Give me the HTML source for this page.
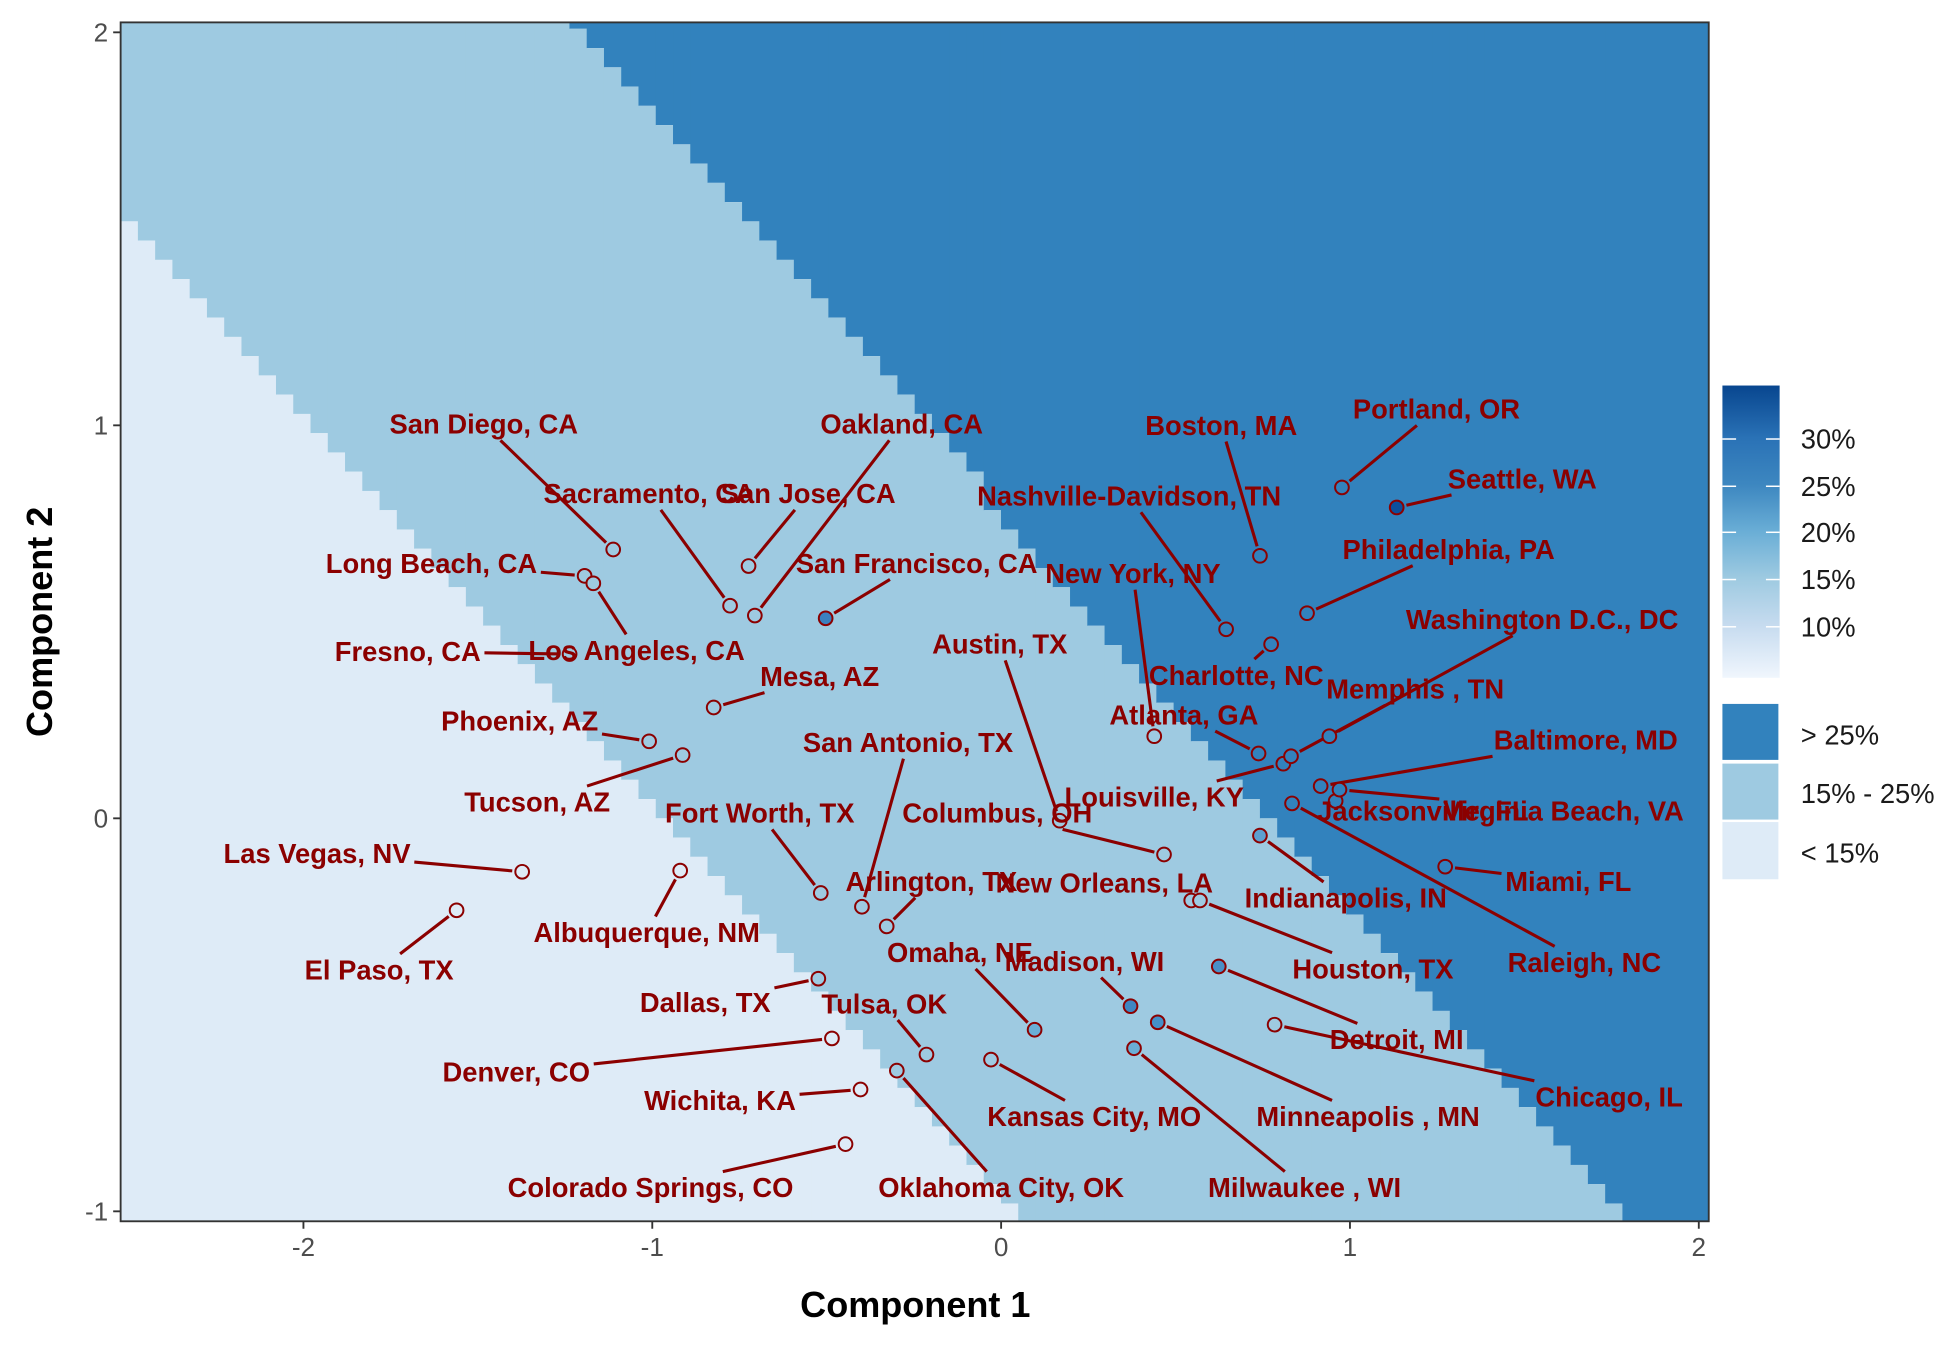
<!DOCTYPE html>
<html><head><meta charset="utf-8"><style>
html,body{margin:0;padding:0;background:#fff;}
svg{display:block;}
text{font-family:"Liberation Sans",sans-serif;}
</style></head><body>
<svg id="chart" width="1950" height="1350" viewBox="0 0 1568 1085.5" preserveAspectRatio="none" xmlns="http://www.w3.org/2000/svg">
<defs>
<linearGradient id="grad" x1="0" y1="1" x2="0" y2="0">
<stop offset="0" stop-color="#f0f6fd"/>
<stop offset="0.18" stop-color="#c6dbef"/>
<stop offset="0.34" stop-color="#9ecae1"/>
<stop offset="0.5" stop-color="#6aaed6"/>
<stop offset="0.66" stop-color="#3d87c0"/>
<stop offset="0.82" stop-color="#2a72b6"/>
<stop offset="1" stop-color="#08468f"/>
</linearGradient>
</defs>
<g id="bg"></g>
<g id="segs"></g>
<g id="pts"></g>
<g id="labs"></g>
<rect x="97" y="18" width="1277" height="964" fill="none" stroke="#333" stroke-width="1.5"/>
<g id="axes"></g>
<text x="736" y="1059" text-anchor="middle" font-size="29" font-weight="bold" fill="#000">Component 1</text>
<text transform="translate(42,500) rotate(-90)" text-anchor="middle" font-size="29" font-weight="bold" fill="#000">Component 2</text>
<g>
<rect x="1385" y="310" width="46" height="235" fill="url(#grad)"/>
<g stroke="#fff" stroke-width="1.2">
<line x1="1385" y1="353" x2="1396" y2="353"/><line x1="1420" y1="353" x2="1431" y2="353"/>
<line x1="1385" y1="391" x2="1396" y2="391"/><line x1="1420" y1="391" x2="1431" y2="391"/>
<line x1="1385" y1="428" x2="1396" y2="428"/><line x1="1420" y1="428" x2="1431" y2="428"/>
<line x1="1385" y1="466" x2="1396" y2="466"/><line x1="1420" y1="466" x2="1431" y2="466"/>
<line x1="1385" y1="504" x2="1396" y2="504"/><line x1="1420" y1="504" x2="1431" y2="504"/>
</g>
<g font-size="22" fill="#1a1a1a" dominant-baseline="central">
<text x="1448" y="353">30%</text>
<text x="1448" y="391">25%</text>
<text x="1448" y="428">20%</text>
<text x="1448" y="466">15%</text>
<text x="1448" y="504">10%</text>
</g>
<rect x="1385" y="566" width="45" height="45" fill="#3282bd"/>
<rect x="1385" y="614" width="45" height="45" fill="#9ecae1"/>
<rect x="1385" y="661" width="45" height="46" fill="#deebf7"/>
<g font-size="22" fill="#1a1a1a" dominant-baseline="central">
<text x="1448" y="591">&gt; 25%</text>
<text x="1448" y="638">15% - 25%</text>
<text x="1448" y="686">&lt; 15%</text>
</g>
</g>
</svg>
<script>
const cities = ["San Diego, CA","Oakland, CA","Sacramento, CA","San Jose, CA","Long Beach, CA","Los Angeles, CA","San Francisco, CA","Fresno, CA","Mesa, AZ","Phoenix, AZ","Tucson, AZ","Las Vegas, NV","El Paso, TX","Albuquerque, NM","Fort Worth, TX","San Antonio, TX","Arlington, TX","Dallas, TX","Tulsa, OK","Omaha, NE","Madison, WI","Denver, CO","Wichita, KA","Colorado Springs, CO","Oklahoma City, OK","Kansas City, MO","Minneapolis , MN","Milwaukee , WI","Austin, TX","Columbus, OH","Louisville, KY","New Orleans, LA","Houston, TX","Indianapolis, IN","Detroit, MI","Chicago, IL","Raleigh, NC","Miami, FL","Jacksonville, FL","Virginia Beach, VA","Baltimore, MD","Memphis , TN","Washington D.C., DC","Charlotte, NC","Atlanta, GA","New York, NY","Nashville-Davidson, TN","Boston, MA","Portland, OR","Seattle, WA","Philadelphia, PA"];
const comp1 = [-1.112,-0.706,-0.777,-0.724,-1.194,-1.169,-0.503,-1.237,-0.824,-1.009,-0.913,-1.373,-1.561,-0.920,-0.517,-0.399,-0.328,-0.524,-0.214,0.096,0.371,-0.485,-0.403,-0.446,-0.299,-0.029,0.449,0.381,0.168,0.467,0.809,0.545,0.570,0.742,0.624,0.784,0.834,1.273,0.959,0.970,0.916,0.831,0.941,0.774,0.738,0.439,0.645,0.742,0.977,1.134,0.877];
const comp2 = [0.684,0.516,0.541,0.642,0.617,0.598,0.509,0.418,0.282,0.196,0.161,-0.136,-0.234,-0.133,-0.190,-0.225,-0.275,-0.408,-0.601,-0.538,-0.478,-0.560,-0.690,-0.829,-0.642,-0.614,-0.519,-0.585,-0.006,-0.092,0.139,-0.209,-0.209,-0.044,-0.377,-0.525,0.038,-0.123,0.044,0.073,0.082,0.158,0.209,0.443,0.165,0.209,0.481,0.668,0.842,0.791,0.522];
const labelX = [-1.483,-0.285,-1.009,-0.553,-1.633,-1.045,-0.242,-1.701,-0.520,-1.380,-1.330,-1.961,-1.783,-1.016,-0.692,-0.267,-0.200,-0.848,-0.335,-0.118,0.239,-1.390,-0.806,-1.005,0.000,0.267,1.052,0.870,-0.004,-0.011,0.439,0.296,1.066,0.988,1.134,1.743,1.672,1.626,1.209,1.612,1.676,1.187,1.551,0.674,0.524,0.378,0.367,0.631,1.248,1.494,1.283];
const labelY = [1.003,1.003,0.826,0.826,0.649,0.427,0.649,0.424,0.361,0.247,0.041,-0.089,-0.386,-0.291,0.013,0.193,-0.161,-0.468,-0.472,-0.342,-0.364,-0.646,-0.718,-0.940,-0.940,-0.759,-0.759,-0.940,0.443,0.013,0.054,-0.165,-0.383,-0.203,-0.563,-0.709,-0.367,-0.161,0.019,0.019,0.199,0.329,0.506,0.364,0.263,0.623,0.820,1.000,1.041,0.864,0.684];
const specialFill = {"Seattle, WA":"#0b4f9c","San Francisco, CA":"#3b80bf","Madison, WI":"#3f86c2","Minneapolis , MN":"#4590c8","Detroit, MI":"#4a8fc6","Omaha, NE":"#6aaed6","Milwaukee , WI":"#6aaed6","Indianapolis, IN":"#5d9fd0"};
const xTicks = [-2,-1,0,1,2];
const yTicks = [-1,0,1,2];

const NS="http://www.w3.org/2000/svg";
const X0=805, XS=280.5, Y0=658, YS=316;
const PL=97, PR=1374, PT=18, PB=982;
const sx = v => X0 + v*XS;
const sy = v => Y0 - v*YS;
const ix = p => (p-X0)/XS;
function mk(tag, attrs, parent){const e=document.createElementNS(NS,tag);for(const k in attrs)e.setAttribute(k,attrs[k]);parent.appendChild(e);return e;}
const lowLine = x => -0.992*x - 0.97;
const highLine = x => -1.016*x + 0.783;
function region(x,y){ if(y>highLine(x)) return "#3282bd"; if(y>lowLine(x)) return "#9ecae1"; return "#deebf7"; }

// background staircase
const bg=document.getElementById('bg');
const ncol=92, cw=(PR-PL)/ncol, rowStep=0.049;
for(let i=0;i<ncol;i++){
  const x0=PL+i*cw, xc=ix(x0+cw/2);
  const yl=Math.round(lowLine(xc)/rowStep)*rowStep, yu=Math.round(highLine(xc)/rowStep)*rowStep;
  const pl=Math.max(PT,Math.min(PB,sy(yl))), pu=Math.max(PT,Math.min(PB,sy(yu)));
  let r=mk('rect',{x:x0,y:PT,width:cw+0.6,height:pu-PT,fill:'#3282bd'},bg);
  
  
  r=mk('rect',{x:x0,y:pu,width:cw+0.6,height:pl-pu,fill:'#9ecae1'},bg);
  
  
  r=mk('rect',{x:x0,y:pl,width:cw+0.6,height:PB-pl,fill:'#deebf7'},bg);
  
  
}

// axes
const ax=document.getElementById('axes');
xTicks.forEach(t=>{
  const l=mk('line',{x1:sx(t),x2:sx(t),y1:PB,y2:PB+6,stroke:'#333','stroke-width':1.5},ax);
  
  
  const tx=mk('text',{x:sx(t),y:PB+28,'text-anchor':'middle','font-size':21,fill:'#4d4d4d'},ax);
  tx.textContent=t;
  
  
});
yTicks.forEach(t=>{
  const l=mk('line',{x1:PL-6,x2:PL,y1:sy(t),y2:sy(t),stroke:'#333','stroke-width':1.5},ax);
  
  
  const tx=mk('text',{x:PL-10,y:sy(t),'text-anchor':'end','dominant-baseline':'central','font-size':21,fill:'#4d4d4d'},ax);
  tx.textContent=t;
  
  
});

// labels, segments, points
const labs=document.getElementById('labs'), segs=document.getElementById('segs'), pts=document.getElementById('pts');
cities.forEach((c,i)=>{
  const px=sx(comp1[i]), py=sy(comp2[i]);
  const lx=sx(labelX[i]), ly=sy(labelY[i]);
  const t=mk('text',{x:lx,y:ly,'text-anchor':'middle','dominant-baseline':'central','font-size':22,'font-weight':'bold',fill:'#8b0000'},labs);
  t.textContent=c;
  
  
  const w=t.getComputedTextLength()/2+3, h=13;
  const dx=px-lx, dy=py-ly;
  if(Math.abs(dx)>w || Math.abs(dy)>h){
    const s=Math.min(dx!==0?w/Math.abs(dx):Infinity, dy!==0?h/Math.abs(dy):Infinity);
    const ex=lx+dx*s, ey=ly+dy*s;
    const L=Math.hypot(px-ex,py-ey);
    if(L>14){
      const k=(L-8)/L;
      const sg=mk('line',{x1:ex,y1:ey,x2:ex+(px-ex)*k,y2:ey+(py-ey)*k,stroke:'#8b0000','stroke-width':2.5},segs);
      
      
    }
  }
  const fill=specialFill[c]||region(comp1[i],comp2[i]);
  const p=mk('circle',{cx:px,cy:py,r:5.5,fill:fill,stroke:'#8b0000','stroke-width':1.6},pts);
  
  
});
</script>
</body></html>
